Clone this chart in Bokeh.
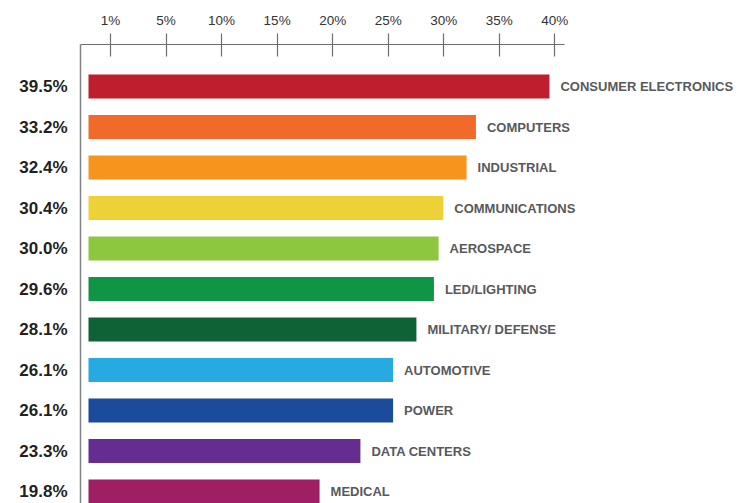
from bokeh.plotting import figure
from bokeh.models import ColumnDataSource, Range1d, LinearAxis, FixedTicker
from bokeh.core.properties import value
from bokeh.embed import file_html
from bokeh.resources import INLINE

categories = ["CONSUMER ELECTRONICS", "COMPUTERS", "INDUSTRIAL", "COMMUNICATIONS",
              "AEROSPACE", "LED/LIGHTING", "MILITARY/ DEFENSE", "AUTOMOTIVE",
              "POWER", "DATA CENTERS", "MEDICAL"]
values = [39.5, 33.2, 32.4, 30.4, 30.0, 29.6, 28.1, 26.1, 26.1, 23.3, 19.8]
colors = ["#BE1E2D", "#F26A2A", "#F7941D", "#EDD136", "#8DC63F", "#109547",
          "#0E6236", "#27AAE1", "#1B4B9B", "#662D91", "#9E1F63"]
tick_values = [0, 5, 10, 15, 20, 25, 30, 35, 40]
tick_labels = ["1%", "5%", "10%", "15%", "20%", "25%", "30%", "35%", "40%"]

FONT = "Liberation Sans"
n = len(categories)
ypos = [n - 1 - i for i in range(n)]

src = ColumnDataSource(dict(cat=categories, val=values, color=colors, y=ypos))

W, H = 749, 503
L, T = 80, 44
k = 11.67  # px per percent for bars
p = figure(width=W, height=H, output_backend="svg", toolbar_location=None,
           x_axis_location=None,
           x_range=Range1d((L - 88) / k, (W - 88) / k),
           y_range=Range1d(10 + 42 / 40.5 - (H - T) / 40.5, 10 + 42 / 40.5),
           min_border_left=L, min_border_right=0, min_border_top=T, min_border_bottom=0)
p.outline_line_color = None
p.grid.grid_line_color = None

p.hbar(y="y", left=0, right="val", height=0.59, fill_color="color", line_color=None, source=src)
p.text(x="val", y="y", text="cat", x_offset=11, y_offset=0, text_baseline="middle",
       text_align="left", text_font=value(FONT), text_font_style="bold",
       text_font_size="13px", text_color="#58595B", source=src)

# top axis with its own scale
ka = 55.54 / 5
p.extra_x_ranges = {"axis": Range1d((L - 110) / ka, (W - 110) / ka)}
ax = LinearAxis(x_range_name="axis", ticker=FixedTicker(ticks=tick_values))
ax.major_label_overrides = {t: l for t, l in zip(tick_values, tick_labels)}
ax.bounds = ((L - 110) / ka, (564 - 110) / ka)
ax.axis_line_color = "#6D6E71"
ax.axis_line_width = 1.2
ax.major_tick_line_color = "#6D6E71"
ax.major_tick_line_width = 1.2
ax.major_tick_in = 12
ax.major_tick_out = 11
ax.minor_tick_line_color = None
ax.major_label_standoff = 6
ax.major_label_text_font = FONT
ax.major_label_text_font_size = "13.5px"
ax.major_label_text_color = "#333333"
p.add_layout(ax, "above")

ya = p.yaxis[0]
ya.ticker = FixedTicker(ticks=ypos)
ya.major_label_overrides = {y: f"{v:.1f}%" for y, v in zip(ypos, values)}
ya.major_tick_line_color = None
ya.minor_tick_line_color = None
ya.major_tick_in = 0
ya.major_tick_out = 0
ya.major_label_standoff = 13
ya.axis_line_color = "#808285"
ya.axis_line_width = 1.5
ya.major_label_text_font = FONT
ya.major_label_text_font_style = "bold"
ya.major_label_text_font_size = "17px"
ya.major_label_text_color = "#231F20"

open("out.html", "w").write(file_html(p, INLINE))
